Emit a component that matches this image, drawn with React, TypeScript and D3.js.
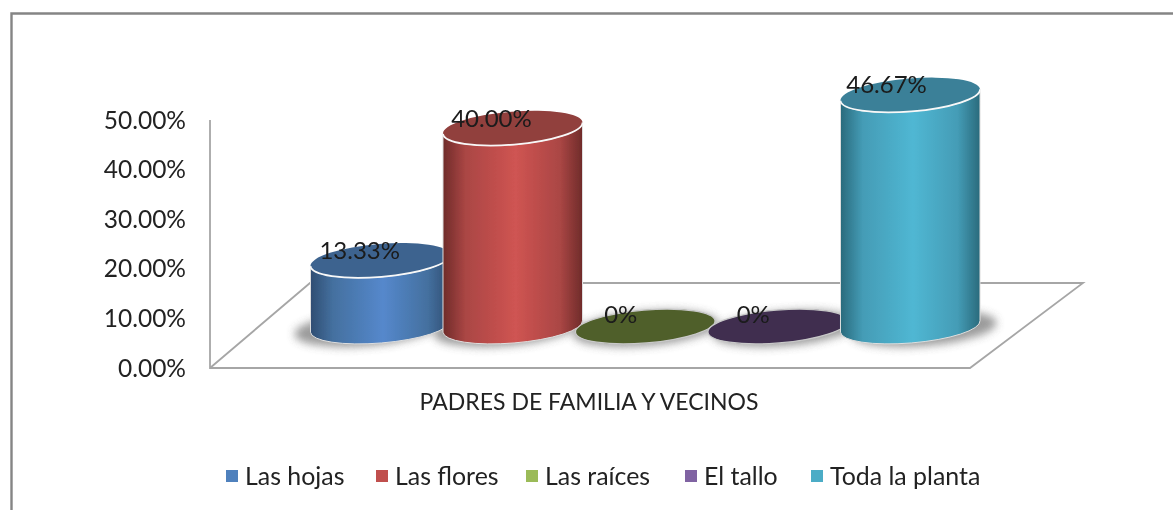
import React from "react";
import * as d3 from "d3";

const categories = ["Las hojas", "Las flores", "Las raíces", "El tallo", "Toda la planta"];
const values = [13.33, 40.0, 0, 0, 46.67];
const valueLabels = ["13.33%", "40.00%", "0%", "0%", "46.67%"];
const yTicks = [0, 10, 20, 30, 40, 50];
const sideColors = ["#4f81bd", "#c0504d", "#9bbb59", "#8064a2", "#4bacc6"];
const midColors = ["#44709f", "#aa4644", "#9bbb59", "#8064a2", "#449cb6"];
const lightColors = ["#5588cc", "#cf5452", "#9bbb59", "#8064a2", "#50b7d3"];
const darkColors = ["#2f4d72", "#6f2b2a", "#5a6d33", "#4a3a5f", "#2a6a7c"];
const topColors = ["#3e648f", "#913f3d", "#4f5f2b", "#3f2f50", "#3b8098"];
const axisTitle = "PADRES DE FAMILIA Y VECINOS";
const legendX = [226, 376, 526, 685, 811];

const W = 1173;
const H = 510;
const RX = 70;
const RY = 16.5;
const ROT = -4.7;
const BASE_Y = 326.5;

const x = d3.scaleBand<string>().domain(categories).range([314, 976.5]).paddingInner(0).paddingOuter(0);
const yAxis = d3.scaleLinear().domain([0, 50]).range([368, 120]);
const h = d3.scaleLinear().domain([0, 50]).range([0, 248]);

const dx = Math.cos((ROT * Math.PI) / 180) * RX;
const dy = Math.sin((ROT * Math.PI) / 180) * RX;

function bodyPath(cx: number, topY: number, baseY: number) {
  return [
    `M${cx - dx},${topY - dy}`,
    `L${cx - dx},${baseY - dy}`,
    `A${RX},${RY} ${ROT} 0 0 ${cx + dx},${baseY + dy}`,
    `L${cx + dx},${topY + dy}`,
    `A${RX},${RY} ${ROT} 0 1 ${cx - dx},${topY - dy}`,
    "Z",
  ].join(" ");
}

function frontArc(cx: number, topY: number) {
  return `M${cx - dx},${topY - dy} A${RX},${RY} ${ROT} 0 0 ${cx + dx},${topY + dy}`;
}

const FONT = "Lato, 'Noto Sans', sans-serif";

export default function App() {
  const order = [0, 2, 3, 4, 1];
  return (
    <svg
      width={W}
      height={H}
      viewBox={`0 0 ${W} ${H}`}
      style={{ position: "fixed", left: 0, top: 0, background: "#fff" }}
      fontFamily={FONT}
    >
      <defs>
        <filter id="shadow" x="-30%" y="-80%" width="160%" height="260%">
          <feGaussianBlur stdDeviation="4.5" />
        </filter>
        <filter id="soft" filterUnits="userSpaceOnUse" x="0" y="0" width={W} height={H}>
          <feGaussianBlur stdDeviation="0.45" />
        </filter>
        {categories.map((c, i) => (
          <linearGradient key={c} id={`g${i}`} x1="0" x2="1" y1="0" y2="0">
            <stop offset="0" stopColor={darkColors[i]} />
            <stop offset="0.16" stopColor={midColors[i]} />
            <stop offset="0.52" stopColor={lightColors[i]} />
            <stop offset="0.84" stopColor={midColors[i]} />
            <stop offset="1" stopColor={darkColors[i]} />
          </linearGradient>
        ))}
      </defs>

      <g filter="url(#soft)">
        {/* chart frame */}
        <path d="M11.5,510 V13.5 H1173" fill="none" stroke="#858585" strokeWidth={2.4} />

        {/* floor */}
        <path
          d="M210,120 V368 H970 L1083,283 H310 L210,368"
          fill="none"
          stroke="#a6a6a6"
          strokeWidth={1.8}
        />

        {/* y axis labels */}
        {yTicks.map((t) => (
          <text
            key={t}
            x={186}
            y={yAxis(t)}
            dy="0.35em"
            textAnchor="end"
            fontSize={24.5}
            fill="#222"
          >
            {t.toFixed(2)}%
          </text>
        ))}

        {/* shadows */}
        {categories.map((c) => {
          const cx = x(c)! + x.bandwidth() / 2;
          const off = (cx - 640) * 0.05;
          return (
            <ellipse
              key={c}
              cx={cx + off}
              cy={BASE_Y + 2}
              rx={RX + 3}
              ry={RY + 1}
              transform={`rotate(${ROT} ${cx + off} ${BASE_Y + 2})`}
              fill="#666"
              opacity={0.65}
              filter="url(#shadow)"
            />
          );
        })}

        {/* cylinders */}
        {order.map((i) => {
          const c = categories[i];
          const v = values[i];
          const cx = x(c)! + x.bandwidth() / 2;
          const topY = BASE_Y - h(v);
          return (
            <g key={c}>
              {v > 0 && (
                <path d={bodyPath(cx, topY, BASE_Y)} fill={`url(#g${i})`} stroke="#dedede" strokeWidth={1} />
              )}
              <ellipse
                cx={cx}
                cy={topY}
                rx={RX}
                ry={RY}
                transform={`rotate(${ROT} ${cx} ${topY})`}
                fill={topColors[i]}
                stroke={v > 0 ? "none" : "#c8c8c8"}
                strokeWidth={1.2}
              />
              {v > 0 && <path d={frontArc(cx, topY)} fill="none" stroke="#f8f8f8" strokeWidth={1.8} />}
            </g>
          );
        })}

        {/* data labels */}
        {categories.map((c, i) => {
          const cx = x(c)! + x.bandwidth() / 2;
          const topY = BASE_Y - h(values[i]);
          const positive = values[i] > 0;
          return (
            <text
              key={c}
              x={cx + (positive ? -20.5 - (cx - 380) * 0.006 : -24.5)}
              y={topY - (positive ? 10 : 12)}
              dy="0.35em"
              textAnchor="middle"
              fontSize={24}
              fill="#1a1a1a"
            >
              {valueLabels[i]}
            </text>
          );
        })}

        {/* category title */}
        <text x={589} y={402} dy="0.35em" textAnchor="middle" fontSize={23} fill="#222">
          {axisTitle}
        </text>

        {/* legend */}
        {categories.map((c, i) => (
          <g key={c}>
            <rect x={legendX[i]} y={470} width={12} height={12} fill={sideColors[i]} />
            <text x={legendX[i] + 19} y={476} dy="0.35em" fontSize={24.9} fill="#222">
              {c}
            </text>
          </g>
        ))}
      </g>
    </svg>
  );
}
